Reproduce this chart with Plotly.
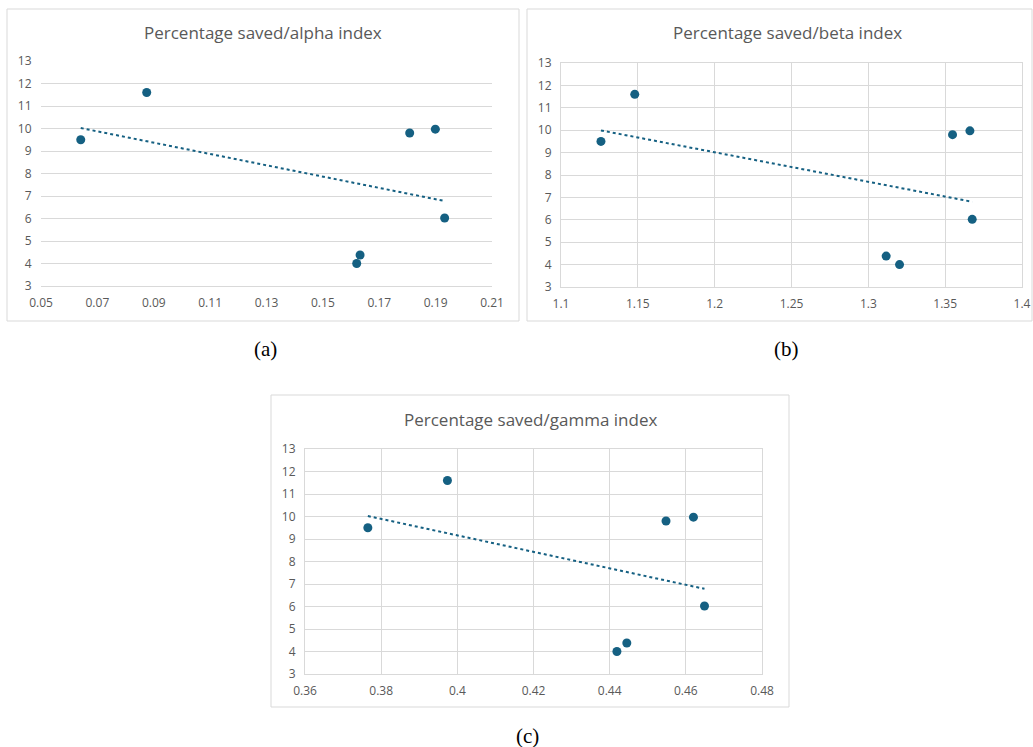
import numpy as np
import plotly.graph_objects as go

W, H = 1033, 747

percentage_saved = [9.5, 11.6, 4.0, 4.38, 9.8, 9.97, 6.02]
alpha_index = [0.0641, 0.0875, 0.1620, 0.1632, 0.1808, 0.1899, 0.1932]
beta_index = [1.126, 1.148, 1.3203, 1.3116, 1.3548, 1.3661, 1.3676]
gamma_index = [0.3765, 0.3974, 0.4419, 0.4445, 0.4548, 0.4620, 0.4649]

titles = ["Percentage saved/alpha index", "Percentage saved/beta index", "Percentage saved/gamma index"]
panel_labels = ["(a)", "(b)", "(c)"]
x_ranges = [[0.05, 0.21], [1.1, 1.4], [0.36, 0.48]]
x_dticks = [0.02, 0.05, 0.02]

MARK = "#156082"
GRID = "#d9d9d9"
TXT = "#595959"
FONT = "Open Sans"

# pixel layouts: box (x0,y0,x1,y1), plot (x0,y0,x1,y1), title (x,y), label (x,y)
panels = [
    dict(box=(7, 9, 519, 321), plot=(41, 61, 492, 286), title=(263, 33), label=(265, 349), vgrid=False),
    dict(box=(527, 9, 1032, 321), plot=(561, 63, 1022, 287), title=(787, 33), label=(786, 349), vgrid=True),
    dict(box=(271, 395, 789, 707), plot=(305, 449, 762, 674), title=(530, 419), label=(527, 736), vgrid=True),
]

def px(x):
    return x / W

def py(y):
    return 1 - y / H

fig = go.Figure()
xs_all = [alpha_index, beta_index, gamma_index]
shapes = []
annotations = []
for i, (xs, p) in enumerate(zip(xs_all, panels)):
    n = i + 1
    xa = "x" if n == 1 else f"x{n}"
    ya = "y" if n == 1 else f"y{n}"
    xv = np.array(xs)
    yv = np.array(percentage_saved)
    k, b = np.polyfit(xv, yv, 1)
    tx = np.linspace(xv.min(), xv.max(), 50)
    fig.add_trace(go.Scatter(x=tx, y=k * tx + b, mode="lines",
                             line=dict(color=MARK, width=2, dash="dot"),
                             xaxis=xa, yaxis=ya, showlegend=False, hoverinfo="skip"))
    fig.add_trace(go.Scatter(x=xs, y=percentage_saved, mode="markers",
                             marker=dict(color=MARK, size=9),
                             xaxis=xa, yaxis=ya, showlegend=False))
    x0, y0, x1, y1 = p["plot"]
    axkey = "xaxis" if n == 1 else f"xaxis{n}"
    aykey = "yaxis" if n == 1 else f"yaxis{n}"
    fig.update_layout(**{
        axkey: dict(domain=[px(x0), px(x1)], range=x_ranges[i], tick0=x_ranges[i][0], dtick=x_dticks[i],
                    anchor=ya, showgrid=p["vgrid"], gridcolor=GRID, zeroline=False,
                    showline=True, linecolor=GRID, mirror=p["vgrid"], ticks="outside",
                    ticklen=6, tickcolor="rgba(0,0,0,0)", automargin=False,
                    tickfont=dict(family=FONT, size=12, color=TXT)),
        aykey: dict(domain=[py(y1), py(y0)], range=[3, 13], dtick=1, anchor=xa,
                    showgrid=True, gridcolor=GRID, zeroline=False,
                    showline=p["vgrid"], linecolor=GRID, mirror=p["vgrid"], ticks="outside",
                    ticklen=6, tickcolor="rgba(0,0,0,0)", automargin=False,
                    tickfont=dict(family=FONT, size=12, color=TXT)),
    })
    bx0, by0, bx1, by1 = p["box"]
    shapes.append(dict(type="rect", xref="paper", yref="paper",
                       x0=px(bx0), x1=px(bx1), y0=py(by1), y1=py(by0),
                       line=dict(color=GRID, width=1), layer="below"))
    annotations.append(dict(text=titles[i], xref="paper", yref="paper",
                            x=px(p["title"][0]), y=py(p["title"][1]), showarrow=False,
                            xanchor="center", yanchor="middle",
                            font=dict(family=FONT, size=17, color=TXT)))
    annotations.append(dict(text=panel_labels[i], xref="paper", yref="paper",
                            x=px(p["label"][0]), y=py(p["label"][1]), showarrow=False,
                            xanchor="center", yanchor="middle",
                            font=dict(family="Liberation Serif", size=21, color="black")))

fig.update_layout(width=W, height=H, autosize=False,
                  margin=dict(l=0, r=0, t=0, b=0, pad=0, autoexpand=False),
                  paper_bgcolor="white", plot_bgcolor="white",
                  shapes=shapes, annotations=annotations)
fig.write_html("out.html", config={"displayModeBar": False},
               post_script="document.body.style.margin='0px';document.body.style.overflow='hidden';")
